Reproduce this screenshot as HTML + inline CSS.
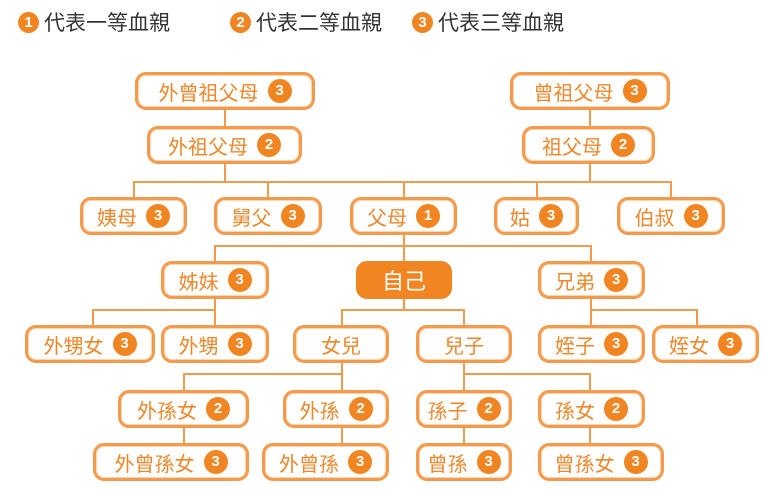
<!DOCTYPE html>
<html><head><meta charset="utf-8"><style>
body{margin:0;width:768px;height:491px;background:#fff;position:relative;overflow:hidden;font-family:"Liberation Sans","Noto Sans CJK TC",sans-serif}
.n{position:absolute;box-sizing:border-box;border:3px solid #f39a4c;border-radius:11px;background:#fff;color:#f0862a;font-size:20px;display:flex;align-items:center;justify-content:center;box-shadow:inset 0 0 0 1px #fbd5b0}
.b{display:inline-block;width:24px;height:24px;border-radius:50%;background:#f08522;color:#fff;font-size:15px;font-weight:bold;line-height:24px;text-align:center;margin-left:9px}
.h{position:absolute;height:2px;background:#f39a4c}
.v{position:absolute;width:2px;background:#f39a4c}
.lg{position:absolute;top:7px;font-size:21px;color:#333;display:flex;align-items:center}
.lg .b{margin:0 5px 0 0;width:21px;height:21px;line-height:21px}
</style></head><body>
<div class="lg" style="left:18px"><span class="b">1</span>代表一等血親</div>
<div class="lg" style="left:230px"><span class="b">2</span>代表二等血親</div>
<div class="lg" style="left:412px"><span class="b">3</span>代表三等血親</div>

<div class="v" style="left:224px;top:108px;height:20px"></div>
<div class="v" style="left:589px;top:108px;height:20px"></div>
<div class="v" style="left:224px;top:161px;height:22px"></div>
<div class="v" style="left:589px;top:161px;height:22px"></div>
<div class="h" style="left:133px;top:181px;width:539px"></div>
<div class="v" style="left:133px;top:181px;height:17px"></div>
<div class="v" style="left:267px;top:181px;height:17px"></div>
<div class="v" style="left:403px;top:181px;height:17px"></div>
<div class="v" style="left:536px;top:181px;height:17px"></div>
<div class="v" style="left:670px;top:181px;height:17px"></div>
<div class="v" style="left:403px;top:233px;height:30px"></div>
<div class="h" style="left:214px;top:245px;width:378px"></div>
<div class="v" style="left:214px;top:245px;height:18px"></div>
<div class="v" style="left:590px;top:245px;height:18px"></div>
<div class="v" style="left:214px;top:296px;height:31px"></div>
<div class="h" style="left:92px;top:309px;width:124px"></div>
<div class="v" style="left:92px;top:309px;height:18px"></div>
<div class="v" style="left:403px;top:296px;height:14px"></div>
<div class="h" style="left:341px;top:309px;width:124px"></div>
<div class="v" style="left:341px;top:309px;height:18px"></div>
<div class="v" style="left:463px;top:309px;height:18px"></div>
<div class="v" style="left:590px;top:296px;height:31px"></div>
<div class="h" style="left:590px;top:309px;width:107px"></div>
<div class="v" style="left:696px;top:309px;height:18px"></div>
<div class="v" style="left:341px;top:360px;height:32px"></div>
<div class="h" style="left:183px;top:373px;width:160px"></div>
<div class="v" style="left:183px;top:373px;height:19px"></div>
<div class="v" style="left:463px;top:360px;height:32px"></div>
<div class="h" style="left:463px;top:373px;width:127px"></div>
<div class="v" style="left:589px;top:373px;height:19px"></div>
<div class="v" style="left:183px;top:425px;height:19px"></div>
<div class="v" style="left:341px;top:425px;height:19px"></div>
<div class="v" style="left:463px;top:425px;height:19px"></div>
<div class="v" style="left:589px;top:425px;height:19px"></div>

<div class="n" style="left:135px;top:72px;width:180px;height:38px">外曾祖父母<span class="b">3</span></div>
<div class="n" style="left:510px;top:72px;width:160px;height:38px">曾祖父母<span class="b">3</span></div>
<div class="n" style="left:147px;top:126px;width:155px;height:38px">外祖父母<span class="b">2</span></div>
<div class="n" style="left:522px;top:126px;width:133px;height:38px">祖父母<span class="b">2</span></div>
<div class="n" style="left:80px;top:197px;width:107px;height:38px">姨母<span class="b">3</span></div>
<div class="n" style="left:214px;top:197px;width:108px;height:38px">舅父<span class="b">3</span></div>
<div class="n" style="left:350px;top:197px;width:107px;height:38px">父母<span class="b">1</span></div>
<div class="n" style="left:494px;top:197px;width:85px;height:38px">姑<span class="b">3</span></div>
<div class="n" style="left:617px;top:197px;width:108px;height:38px">伯叔<span class="b">3</span></div>
<div class="n" style="left:161px;top:261px;width:108px;height:38px">姊妹<span class="b">3</span></div>
<div class="n" style="left:356px;top:261px;width:96px;height:38px;background:#f08522;border-color:#f08522;color:#fff;font-size:22px;box-shadow:none">自己</div>
<div class="n" style="left:538px;top:261px;width:107px;height:38px">兄弟<span class="b">3</span></div>
<div class="n" style="left:25px;top:325px;width:130px;height:38px">外甥女<span class="b">3</span></div>
<div class="n" style="left:161px;top:325px;width:108px;height:38px">外甥<span class="b">3</span></div>
<div class="n" style="left:293px;top:325px;width:96px;height:38px">女兒</div>
<div class="n" style="left:416px;top:325px;width:96px;height:38px">兒子</div>
<div class="n" style="left:538px;top:325px;width:107px;height:38px">姪子<span class="b">3</span></div>
<div class="n" style="left:652px;top:325px;width:107px;height:38px">姪女<span class="b">3</span></div>
<div class="n" style="left:118px;top:390px;width:131px;height:38px">外孫女<span class="b">2</span></div>
<div class="n" style="left:283px;top:390px;width:106px;height:38px">外孫<span class="b">2</span></div>
<div class="n" style="left:416px;top:390px;width:96px;height:38px">孫子<span class="b">2</span></div>
<div class="n" style="left:538px;top:390px;width:107px;height:38px">孫女<span class="b">2</span></div>
<div class="n" style="left:93px;top:443px;width:156px;height:38px">外曾孫女<span class="b">3</span></div>
<div class="n" style="left:262px;top:443px;width:127px;height:38px">外曾孫<span class="b">3</span></div>
<div class="n" style="left:416px;top:443px;width:96px;height:38px">曾孫<span class="b">3</span></div>
<div class="n" style="left:538px;top:443px;width:126px;height:38px">曾孫女<span class="b">3</span></div>
</body></html>
